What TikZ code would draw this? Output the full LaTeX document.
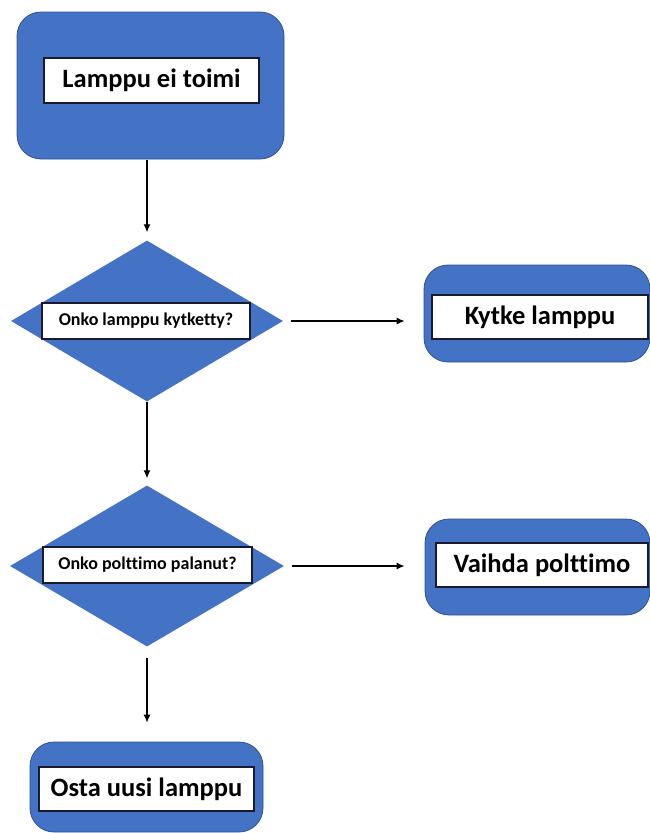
\documentclass[tikz,border=0pt]{standalone}
\usepackage{fontspec}
\setmainfont{Carlito}[Ligatures=NoCommon]
\usetikzlibrary{shapes.geometric,arrows.meta}
\definecolor{officeblue}{HTML}{4472C4}
\definecolor{edgeblue}{HTML}{2F528F}
\definecolor{labeledge}{HTML}{1A1A2E}
\tikzset{
  bluebox/.style={draw=edgeblue, line width=0.8pt, fill=officeblue, rounded corners=24pt, inner sep=0pt},
  bluediamond/.style={shape=diamond, fill=officeblue, draw=none, inner sep=0pt},
  biglabel/.style={draw=labeledge, line width=1.2pt, fill=white, inner sep=0pt, font=\fontsize{26.5}{30}\bfseries\selectfont},
  smalllabel/.style={draw=labeledge, line width=1.2pt, fill=white, inner sep=0pt, font=\fontsize{18}{21}\bfseries\selectfont},
  flow/.style={draw=black, line width=1.2pt, -{Latex[length=8pt,width=7pt]}}
}
\begin{document}
\begin{tikzpicture}[x=1pt,y=-1pt]
\useasboundingbox (0,0) rectangle (650,833);
% top
\node[bluebox, minimum width=267pt, minimum height=147pt] (top) at (150.5,85.5) {};
\node[biglabel, minimum width=215pt, minimum height=45pt] (toplab) at (151.5,80.5) {Lamppu ei toimi};
% diamond 1
\node[bluediamond, minimum width=272pt, minimum height=161pt] (d1) at (147,321) {};
\node[smalllabel, minimum width=208pt, minimum height=36pt] (d1lab) at (146,321) {Onko lamppu kytketty?};
% kytke
\node[bluebox, minimum width=226pt, minimum height=97pt] (kyt) at (537,313.5) {};
\node[biglabel, minimum width=216pt, minimum height=44pt] (kytlab) at (540,317) {Kytke lamppu};
% diamond 2
\node[bluediamond, minimum width=274pt, minimum height=161pt] (d2) at (147,566) {};
\node[smalllabel, minimum width=209pt, minimum height=36pt] (d2lab) at (147.5,565) {Onko polttimo palanut?};
% vaihda
\node[bluebox, minimum width=225pt, minimum height=96pt] (vai) at (537.5,567) {};
\node[biglabel, minimum width=212pt, minimum height=44pt] (vailab) at (542,565) {Vaihda polttimo};
% osta
\node[bluebox, minimum width=233pt, minimum height=90pt] (osta) at (146.5,787) {};
\node[biglabel, minimum width=215pt, minimum height=44pt] (ostalab) at (146.5,789) {Osta uusi lamppu};
% connectors
\draw[flow, shorten <=1pt, shorten >=8pt] (top.south -| d1.north) -- (d1.north);
\draw[flow, shorten <=8pt, shorten >=19pt] (d1.east) -- (d1.east -| kyt.west);
\draw[flow, shorten >=7pt] (d1.south) -- (d2.north);
\draw[flow, shorten <=8pt, shorten >=20pt] (d2.east) -- (d2.east -| vai.west);
\draw[flow, shorten <=11pt, shorten >=19pt] (d2.south) -- (d2.south |- osta.north);
\end{tikzpicture}
\end{document}
